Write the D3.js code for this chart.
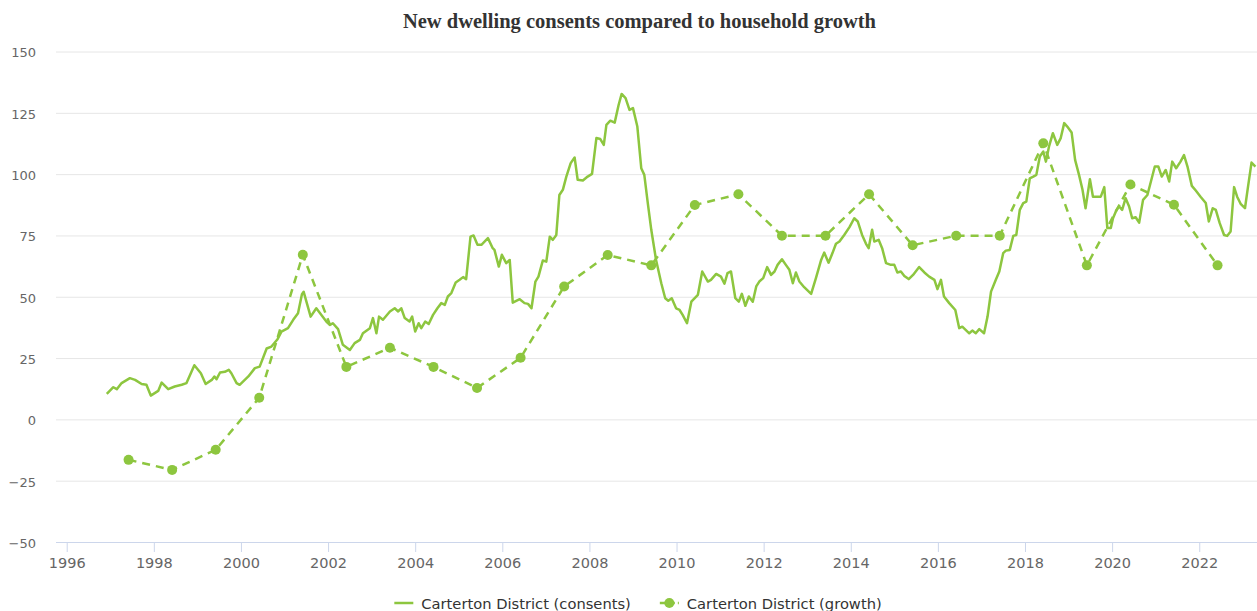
<!DOCTYPE html>
<html>
<head>
<meta charset="utf-8">
<script src="https://cdn.jsdelivr.net/npm/d3@7/dist/d3.min.js"></script>
<style>
  body { margin: 0; background: #fff; }
  svg { display: block; }
</style>
</head>
<body>
<svg id="chart" width="1257" height="611"></svg>
<script>
// consents (rolling annual count), dates as decimal years
var consentYears = [
  1996.92, 1997.07, 1997.15, 1997.26, 1997.45, 1997.57, 1997.72, 1997.83, 1997.93, 1998.10,
  1998.18, 1998.33, 1998.48, 1998.64, 1998.75, 1998.93, 1999.08, 1999.19, 1999.33, 1999.39,
  1999.44, 1999.52, 1999.63, 1999.72, 1999.78, 1999.90, 1999.97, 2000.17, 2000.32, 2000.43,
  2000.59, 2000.70, 2000.84, 2000.93, 2001.08, 2001.20, 2001.31, 2001.40, 2001.44, 2001.60,
  2001.73, 2001.96, 2002.04, 2002.11, 2002.23, 2002.34, 2002.50, 2002.61, 2002.73, 2002.80,
  2002.96, 2003.03, 2003.11, 2003.17, 2003.26, 2003.42, 2003.53, 2003.61, 2003.68, 2003.76,
  2003.87, 2003.93, 2004.00, 2004.08, 2004.14, 2004.23, 2004.31, 2004.41, 2004.51, 2004.60,
  2004.68, 2004.75, 2004.83, 2004.93, 2005.02, 2005.10, 2005.17, 2005.27, 2005.34, 2005.43,
  2005.52, 2005.67, 2005.78, 2005.82, 2005.92, 2005.99, 2006.09, 2006.17, 2006.24, 2006.40,
  2006.51, 2006.59, 2006.67, 2006.76, 2006.83, 2006.93, 2007.01, 2007.09, 2007.16, 2007.24,
  2007.31, 2007.39, 2007.47, 2007.57, 2007.66, 2007.73, 2007.85, 2007.96, 2008.06, 2008.16,
  2008.25, 2008.33, 2008.39, 2008.48, 2008.58, 2008.67, 2008.74, 2008.83, 2008.92, 2009.00,
  2009.10, 2009.19, 2009.26, 2009.34, 2009.42, 2009.53, 2009.65, 2009.74, 2009.81, 2009.89,
  2009.99, 2010.07, 2010.14, 2010.24, 2010.34, 2010.49, 2010.59, 2010.72, 2010.79, 2010.91,
  2011.02, 2011.10, 2011.17, 2011.25, 2011.35, 2011.43, 2011.50, 2011.58, 2011.66, 2011.75,
  2011.83, 2011.90, 2011.99, 2012.08, 2012.17, 2012.25, 2012.32, 2012.42, 2012.51, 2012.59,
  2012.67, 2012.74, 2012.82, 2012.93, 2013.09, 2013.20, 2013.32, 2013.39, 2013.49, 2013.58,
  2013.66, 2013.74, 2013.85, 2013.97, 2014.08, 2014.16, 2014.26, 2014.35, 2014.41, 2014.49,
  2014.54, 2014.64, 2014.72, 2014.81, 2014.92, 2015.00, 2015.07, 2015.15, 2015.23, 2015.33,
  2015.43, 2015.57, 2015.69, 2015.80, 2015.92, 2015.99, 2016.07, 2016.14, 2016.26, 2016.40,
  2016.49, 2016.56, 2016.72, 2016.79, 2016.87, 2016.95, 2017.06, 2017.14, 2017.22, 2017.33,
  2017.41, 2017.50, 2017.56, 2017.65, 2017.73, 2017.80, 2017.88, 2017.96, 2018.03, 2018.11,
  2018.19, 2018.26, 2018.34, 2018.42, 2018.48, 2018.55, 2018.64, 2018.74, 2018.82, 2018.90,
  2018.97, 2019.07, 2019.15, 2019.24, 2019.32, 2019.39, 2019.49, 2019.56, 2019.66, 2019.74,
  2019.82, 2019.89, 2019.97, 2020.02, 2020.10, 2020.16, 2020.23, 2020.31, 2020.39, 2020.46,
  2020.54, 2020.62, 2020.71, 2020.81, 2020.91, 2020.98, 2021.06, 2021.14, 2021.23, 2021.31,
  2021.38, 2021.47, 2021.57, 2021.65, 2021.73, 2021.83, 2021.92, 2022.03, 2022.15, 2022.22,
  2022.31, 2022.38, 2022.47, 2022.57, 2022.64, 2022.72, 2022.80, 2022.87, 2022.95, 2023.05,
  2023.12, 2023.20, 2023.29
];
var consentValues = [
  10.4, 13.1, 12.3, 14.8, 16.8, 16.1, 14.4, 14.1, 9.7, 11.6,
  15.0, 12.3, 13.4, 14.1, 14.8, 22.1, 18.8, 14.4, 16.1, 17.5,
  16.4, 19.1, 19.4, 20.2, 18.8, 14.8, 14.1, 17.5, 20.9, 21.5,
  28.9, 29.7, 32.7, 35.8, 37.2, 40.6, 43.3, 51.0, 52.0, 41.9,
  45.3, 39.9, 38.5, 39.2, 36.8, 30.4, 28.3, 31.1, 32.4, 35.1,
  37.2, 41.3, 35.1, 41.9, 40.6, 44.0, 45.3, 44.0, 45.3, 41.3,
  39.9, 41.9, 35.8, 39.2, 37.2, 39.9, 38.9, 42.6, 45.3, 47.4,
  46.7, 50.1, 51.5, 55.8, 56.9, 58.0, 57.2, 74.5, 75.0, 71.2,
  71.2, 73.9, 69.8, 69.1, 62.3, 67.1, 63.7, 65.0, 47.6, 49.0,
  47.4, 47.1, 45.3, 56.2, 58.2, 64.8, 64.3, 74.5, 73.2, 75.2,
  91.5, 93.6, 99.0, 104.5, 106.8, 97.7, 97.4, 99.0, 100.1, 114.7,
  114.3, 111.9, 120.1, 121.8, 121.0, 128.2, 132.7, 131.0, 126.2, 126.9,
  119.4, 102.4, 99.7, 88.2, 77.3, 65.0, 55.5, 49.4, 48.4, 49.4,
  45.3, 44.6, 42.6, 39.2, 48.0, 50.8, 60.3, 56.2, 56.9, 59.3,
  58.2, 55.3, 59.6, 60.3, 49.4, 48.0, 51.2, 46.3, 50.1, 48.0,
  54.2, 56.2, 57.6, 62.1, 58.9, 60.3, 63.0, 65.3, 63.0, 61.0,
  55.5, 59.9, 56.2, 53.9, 51.2, 57.6, 65.0, 68.0, 63.9, 67.8,
  71.6, 72.5, 75.2, 78.4, 82.0, 80.7, 75.2, 71.6, 69.8, 77.3,
  72.5, 73.2, 69.8, 63.7, 63.0, 63.0, 59.9, 60.3, 58.5, 57.2,
  58.9, 62.1, 59.9, 58.2, 56.9, 53.1, 56.9, 50.1, 47.4, 44.6,
  37.2, 37.8, 35.1, 36.2, 35.1, 36.8, 35.1, 41.9, 52.1, 56.9,
  60.3, 67.8, 68.8, 69.1, 74.8, 75.2, 85.4, 88.2, 88.8, 98.3,
  99.0, 99.7, 107.2, 109.2, 105.1, 111.2, 116.7, 111.9, 114.7, 120.8,
  119.4, 117.0, 105.8, 99.7, 93.6, 86.1, 97.9, 90.8, 90.8, 90.8,
  94.7, 78.0, 78.0, 82.0, 85.4, 86.8, 85.4, 90.2, 86.8, 82.0,
  82.4, 80.2, 89.5, 91.5, 98.3, 103.1, 103.1, 99.0, 101.7, 97.0,
  105.1, 102.4, 105.1, 107.8, 103.1, 95.2, 93.3, 90.8, 88.2, 80.7,
  86.1, 85.4, 80.0, 75.2, 74.8, 76.6, 94.7, 90.8, 87.9, 86.1,
  94.9, 104.7, 103.1
];

// household growth, one point per year
var growthYears = [
  1997.42, 1998.42, 1999.42, 2000.42, 2001.42, 2002.42, 2003.42, 2004.42, 2005.42,
  2006.42, 2007.42, 2008.42, 2009.42, 2010.42, 2011.42, 2012.42, 2013.42, 2014.42,
  2015.42, 2016.42, 2017.42, 2018.42, 2019.42, 2020.42, 2021.42, 2022.42
];
var growthValues = [
  -16.5, -20.6, -12.4, 8.8, 67.1, 21.4, 29.2, 21.4, 12.8,
  25.1, 54.2, 67.0, 62.8, 87.4, 91.8, 74.9, 74.9, 91.8,
  71.0, 74.9, 74.9, 112.6, 62.8, 95.8, 87.5, 62.8
];

var xTicks = [1996, 1998, 2000, 2002, 2004, 2006, 2008, 2010, 2012, 2014, 2016, 2018, 2020, 2022];
var yTicks = [-50, -25, 0, 25, 50, 75, 100, 125, 150];
var seriesNames = ["Carterton District (consents)", "Carterton District (growth)"];
var titleText = "New dwelling consents compared to household growth";

var green = "#8dc63f";
var svgW = 1257, svgH = 611;
var margin = {top: 51.5, right: 0, bottom: 69, left: 56},
    width = svgW - margin.left - margin.right,
    height = svgH - margin.top - margin.bottom;

var svg = d3.select("#chart");

var x = d3.scaleLinear().domain([1995.754, 2023.326]).range([0, width]);
var y = d3.scaleLinear().domain([-50, 150]).range([height, 0]);

// title
svg.append("text")
    .attr("x", 639.5)
    .attr("y", 28)
    .attr("text-anchor", "middle")
    .style("font-family", "'Liberation Serif', 'Times New Roman', serif")
    .style("font-weight", "bold")
    .style("font-size", "20.5px")
    .style("fill", "#333333")
    .text(titleText);

var g = svg.append("g")
    .attr("transform", "translate(" + margin.left + "," + margin.top + ")");

// grid
var yAxis = d3.axisLeft(y).tickValues(yTicks).tickSize(-width).tickPadding(20);
var yG = g.append("g").call(yAxis);
yG.select(".domain").remove();
yG.selectAll(".tick line").attr("stroke", "#e6e6e6").attr("stroke-width", 1);
yG.selectAll(".tick text")
    .style("font-family", "'DejaVu Sans', sans-serif")
    .style("font-size", "13px")
    .style("fill", "#666666")
    .attr("dy", "0.42em");

var xAxis = d3.axisBottom(x).tickValues(xTicks).tickFormat(d3.format("d")).tickSize(10).tickPadding(6);
var xG = g.append("g").attr("transform", "translate(0," + height + ")").call(xAxis);
xG.select(".domain").attr("stroke", "#ccd6eb").attr("d", "M0,0.5H" + width);
xG.selectAll(".tick line").attr("stroke", "#ccd6eb");
xG.selectAll(".tick text")
    .style("font-family", "'DejaVu Sans', sans-serif")
    .style("font-size", "14.5px")
    .style("fill", "#666666");

svg.append("defs").append("clipPath").attr("id", "plotclip")
  .append("rect").attr("x", 0).attr("y", -10).attr("width", width).attr("height", height + 20);

var plot = g.append("g").attr("clip-path", "url(#plotclip)");

var consents = consentYears.map(function (d, i) { return [d, consentValues[i]]; });
var growth = growthYears.map(function (d, i) { return [d, growthValues[i]]; });

var line = d3.line()
    .x(function (d) { return x(d[0]); })
    .y(function (d) { return y(d[1]); });

plot.append("path")
    .datum(consents)
    .attr("fill", "none")
    .attr("stroke", green)
    .attr("stroke-width", 2.5)
    .attr("stroke-linejoin", "round")
    .attr("d", line);

plot.append("path")
    .datum(growth)
    .attr("fill", "none")
    .attr("stroke", green)
    .attr("stroke-width", 2.5)
    .attr("stroke-dasharray", "8,6")
    .attr("d", line);

plot.selectAll("circle.growth")
    .data(growth)
    .enter().append("circle")
    .attr("class", "growth")
    .attr("cx", function (d) { return x(d[0]); })
    .attr("cy", function (d) { return y(d[1]); })
    .attr("r", 5)
    .attr("fill", green);

// legend
var legend = svg.append("g");
var lx = 0;
seriesNames.forEach(function (name, i) {
    var item = legend.append("g").attr("transform", "translate(" + lx + ",0)");
    var sym = item.append("line")
        .attr("x1", 0).attr("x2", 19)
        .attr("y1", 0).attr("y2", 0)
        .attr("stroke", green)
        .attr("stroke-width", 2.5);
    if (i === 1) {
        sym.attr("stroke-dasharray", "6,3");
        item.append("circle").attr("cx", 9.5).attr("cy", 0).attr("r", 5).attr("fill", green);
    }
    var t = item.append("text")
        .attr("x", 27)
        .attr("y", 5.5)
        .style("font-family", "'DejaVu Sans', sans-serif")
        .style("font-size", "14.7px")
        .style("fill", "#333333")
        .text(name);
    lx += 27 + t.node().getComputedTextLength() + 29;
});
var legendW = lx - 29;
legend.attr("transform", "translate(" + (638 - legendW / 2) + ",603)");
</script>
</body>
</html>
